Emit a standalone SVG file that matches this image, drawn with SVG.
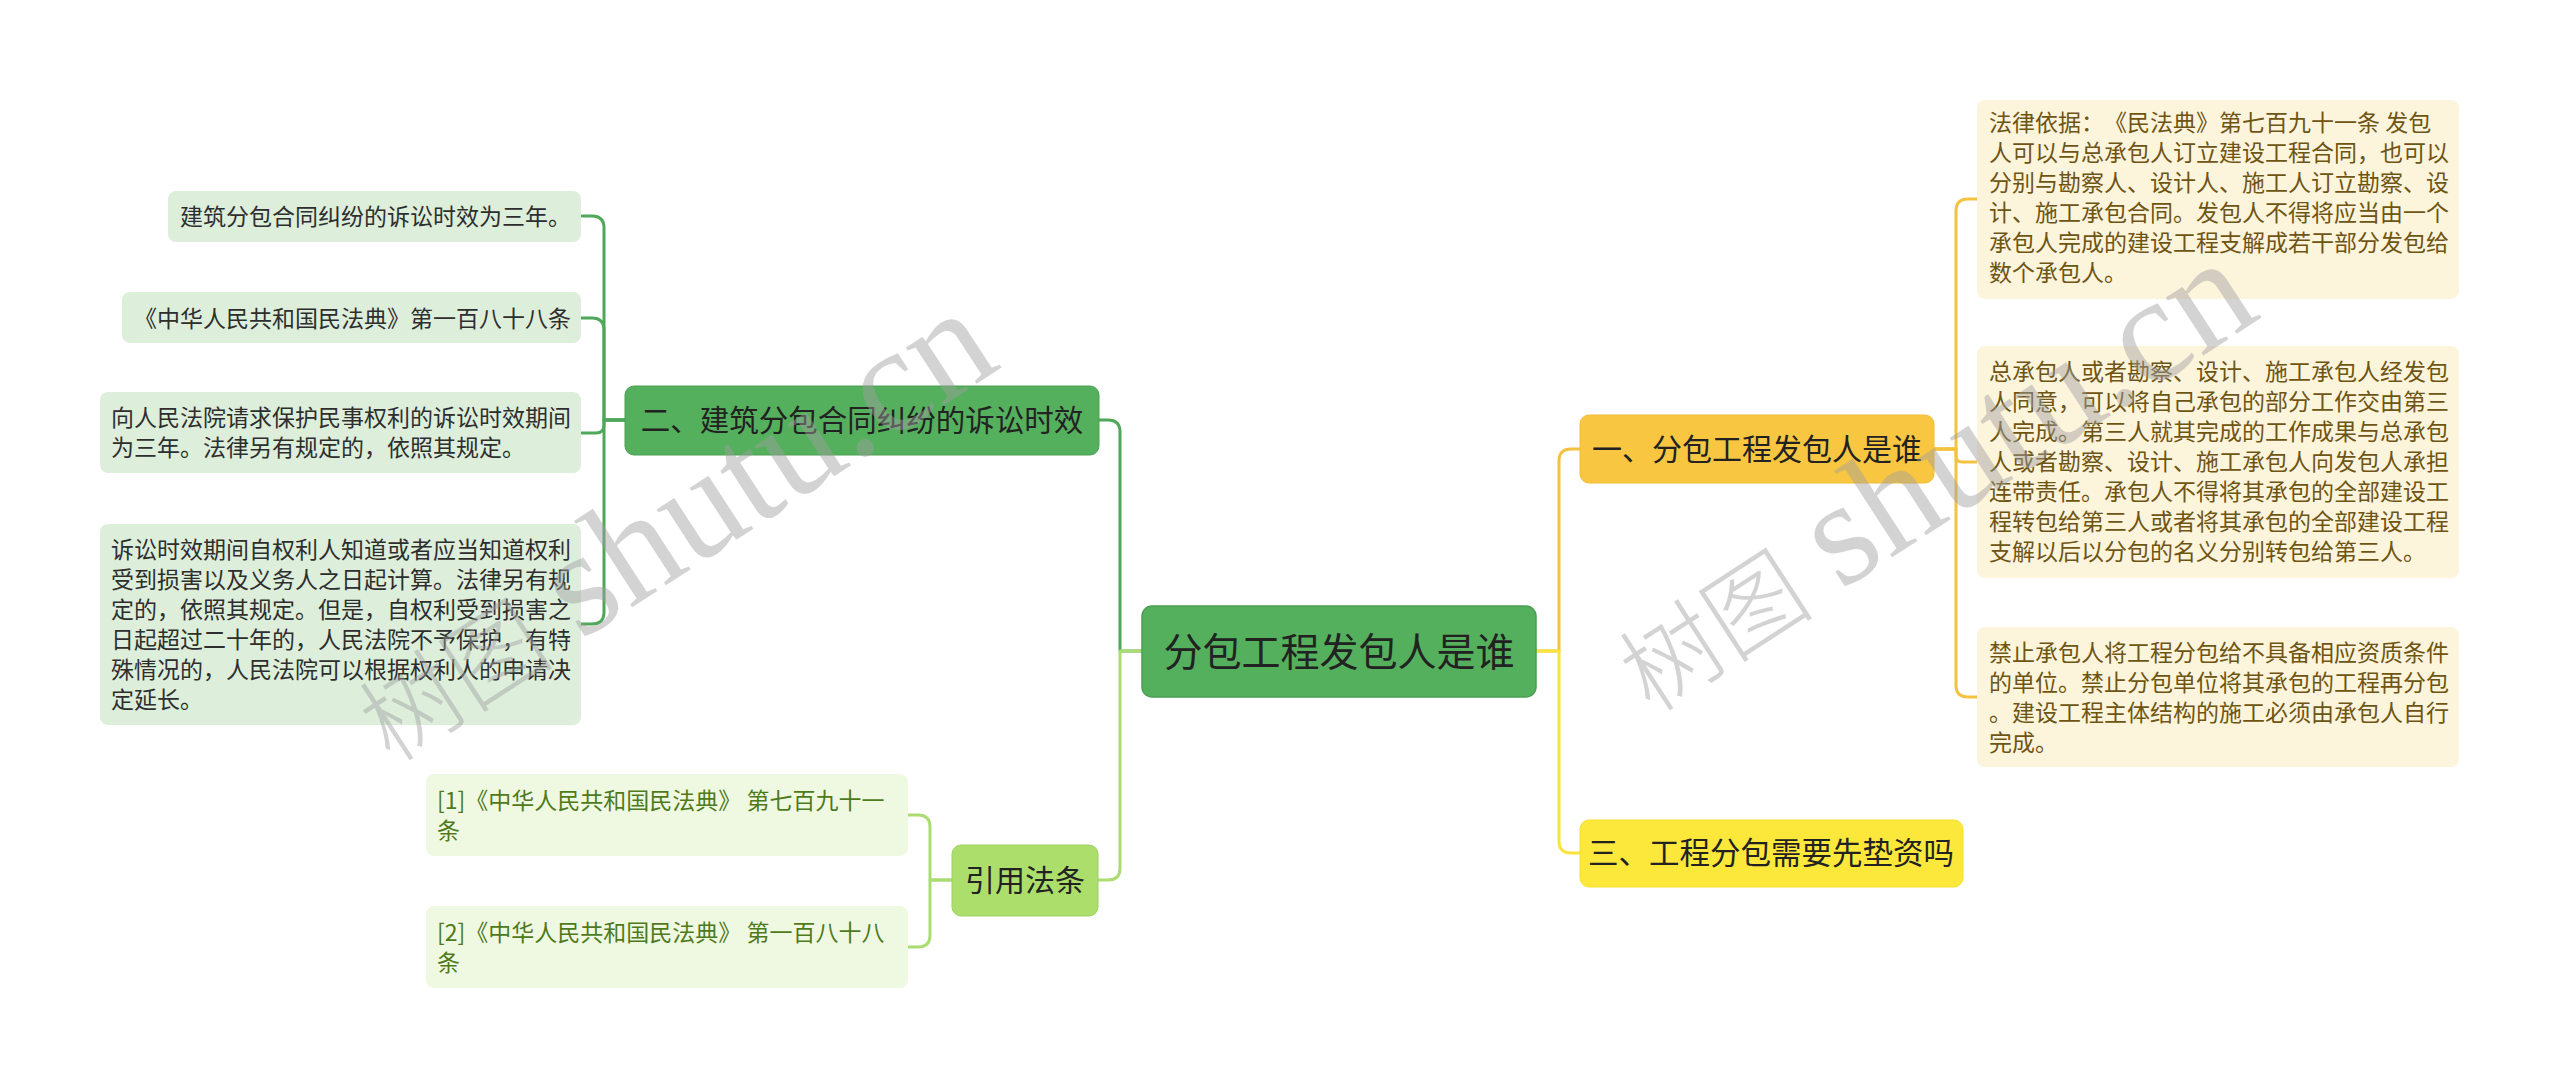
<svg xmlns="http://www.w3.org/2000/svg" width="2560" height="1088" viewBox="0 0 2560 1088">
<style>
text{font-family:"Noto Sans CJK SC","Liberation Sans",sans-serif;text-spacing-trim:space-all;}
.c{fill:none;stroke-width:3;stroke-linecap:round;stroke-linejoin:round;}
.cg{stroke:#4fa85a;}
.cl{stroke:#abdc70;}
.co{stroke:#f4c241;}
.cy{stroke:#f8e43c;}
.root rect{fill:#54b05d;stroke:#4a9f52;stroke-width:1.5;}
.b2 rect{fill:#54b05d;stroke:#4a9f52;stroke-width:1;}
.bref rect{fill:#abde6b;stroke:#9fd160;stroke-width:1;}
.b1 rect{fill:#f8c640;stroke:#f1bd35;stroke-width:1;}
.b3 rect{fill:#fbe83b;stroke:#f3df30;stroke-width:1;}
.lg rect{fill:#ddeedb;}
.lr rect{fill:#eff9e2;}
.ly rect{fill:#fdf4dc;}
.bt{fill:#222;text-anchor:middle;}
.lgt{fill:#2e2e2e;font-size:23px;}
.lrt{fill:#4f7a1c;font-size:23px;}
.lyt{fill:#6e5514;font-size:23px;}
.wm{fill:#a0a0a0;opacity:0.45;}
.wmc{font-family:"Noto Sans CJK SC",sans-serif;font-size:98px;font-weight:300;}
.wml{font-family:"Liberation Serif",serif;font-size:150px;}
</style>

<g id="connectors">
  <path class="c cg" d="M1142 651 H1120 V432 Q1120 420 1108 420 H1097"/>
  <path class="c cl" d="M1142 651 H1120 V868 Q1120 880 1108 880 H1097"/>
  <path class="c co" d="M1535 651 H1559 V461 Q1559 449 1571 449 H1580"/>
  <path class="c cy" d="M1535 651 H1559 V841 Q1559 853 1571 853 H1580"/>
  <path class="c cg" d="M625 420 H604 V228 Q604 216 592 216 H581"/>
  <path class="c cg" d="M625 420 H604 V330 Q604 318 592 318 H581"/>
  <path class="c cg" d="M625 420 H604 V425 Q604 433 596 433 H581"/>
  <path class="c cg" d="M625 420 H604 V612 Q604 624 592 624 H581"/>
  <path class="c cl" d="M952 880 H930 V827 Q930 815 918 815 H908"/>
  <path class="c cl" d="M952 880 H930 V935 Q930 947 918 947 H908"/>
  <path class="c co" d="M1933 449 H1956 V211 Q1956 199 1968 199 H1977"/>
  <path class="c co" d="M1933 449 H1956 V456 Q1956 462 1962 462 H1977"/>
  <path class="c co" d="M1933 449 H1956 V685 Q1956 697 1968 697 H1977"/>
</g>

<g id="root" class="root">
  <rect x="1142" y="606" width="394" height="91" rx="10"/>
  <text class="bt" x="1339" y="666" font-size="39">分包工程发包人是谁</text>
</g>

<g id="branch-2" class="b2">
  <rect x="625" y="386" width="474" height="69" rx="9"/>
  <text class="bt" x="862" y="431" font-size="29.5">二、建筑分包合同纠纷的诉讼时效</text>
</g>

<g id="branch-ref" class="bref">
  <rect x="952" y="845" width="146" height="71" rx="9"/>
  <text class="bt" x="1025" y="891" font-size="30">引用法条</text>
</g>

<g id="branch-1" class="b1">
  <rect x="1580" y="415" width="354" height="68" rx="9"/>
  <text class="bt" x="1757" y="460" font-size="30">一、分包工程发包人是谁</text>
</g>

<g id="branch-3" class="b3">
  <rect x="1580" y="820" width="383" height="67" rx="9"/>
  <text class="bt" x="1771" y="864" font-size="30.5">三、工程分包需要先垫资吗</text>
</g>

<g id="leaf-a" class="lg">
  <rect x="168" y="191" width="413" height="51" rx="8"/>
  <text class="lgt" x="180" y="225">建筑分包合同纠纷的诉讼时效为三年。</text>
</g>
<g id="leaf-b" class="lg">
  <rect x="122" y="292" width="459" height="51" rx="8"/>
  <text class="lgt" x="134" y="327">《中华人民共和国民法典》第一百八十八条</text>
</g>
<g id="leaf-c" class="lg">
  <rect x="100" y="392" width="481" height="81" rx="8"/>
  <text class="lgt" x="111" y="426">向人民法院请求保护民事权利的诉讼时效期间</text>
  <text class="lgt" x="111" y="456">为三年。法律另有规定的，依照其规定。</text>
</g>
<g id="leaf-d" class="lg">
  <rect x="100" y="524" width="481" height="201" rx="8"/>
  <text class="lgt" x="111" y="558">诉讼时效期间自权利人知道或者应当知道权利</text>
  <text class="lgt" x="111" y="588">受到损害以及义务人之日起计算。法律另有规</text>
  <text class="lgt" x="111" y="618">定的，依照其规定。但是，自权利受到损害之</text>
  <text class="lgt" x="111" y="648">日起超过二十年的，人民法院不予保护，有特</text>
  <text class="lgt" x="111" y="678">殊情况的，人民法院可以根据权利人的申请决</text>
  <text class="lgt" x="111" y="708">定延长。</text>
</g>

<g id="ref-1" class="lr">
  <rect x="426" y="774" width="482" height="82" rx="8"/>
  <text class="lrt" x="437" y="809">[1]《中华人民共和国民法典》 第七百九十一</text>
  <text class="lrt" x="437" y="839">条</text>
</g>
<g id="ref-2" class="lr">
  <rect x="426" y="906" width="482" height="82" rx="8"/>
  <text class="lrt" x="437" y="941">[2]《中华人民共和国民法典》 第一百八十八</text>
  <text class="lrt" x="437" y="971">条</text>
</g>

<g id="leaf-r1" class="ly">
  <rect x="1977" y="100" width="482" height="199" rx="8"/>
  <text class="lyt" x="1989" y="131">法律依据：《民法典》第七百九十一条 发包</text>
  <text class="lyt" x="1989" y="161">人可以与总承包人订立建设工程合同，也可以</text>
  <text class="lyt" x="1989" y="191">分别与勘察人、设计人、施工人订立勘察、设</text>
  <text class="lyt" x="1989" y="221">计、施工承包合同。发包人不得将应当由一个</text>
  <text class="lyt" x="1989" y="251">承包人完成的建设工程支解成若干部分发包给</text>
  <text class="lyt" x="1989" y="281">数个承包人。</text>
</g>
<g id="leaf-r2" class="ly">
  <rect x="1977" y="346" width="482" height="232" rx="8"/>
  <text class="lyt" x="1989" y="380">总承包人或者勘察、设计、施工承包人经发包</text>
  <text class="lyt" x="1989" y="410">人同意，可以将自己承包的部分工作交由第三</text>
  <text class="lyt" x="1989" y="440">人完成。第三人就其完成的工作成果与总承包</text>
  <text class="lyt" x="1989" y="470">人或者勘察、设计、施工承包人向发包人承担</text>
  <text class="lyt" x="1989" y="500">连带责任。承包人不得将其承包的全部建设工</text>
  <text class="lyt" x="1989" y="530">程转包给第三人或者将其承包的全部建设工程</text>
  <text class="lyt" x="1989" y="560">支解以后以分包的名义分别转包给第三人。</text>
</g>
<g id="leaf-r3" class="ly">
  <rect x="1977" y="627" width="482" height="140" rx="8"/>
  <text class="lyt" x="1989" y="661">禁止承包人将工程分包给不具备相应资质条件</text>
  <text class="lyt" x="1989" y="691">的单位。禁止分包单位将其承包的工程再分包</text>
  <text class="lyt" x="1989" y="721">。建设工程主体结构的施工必须由承包人自行</text>
  <text class="lyt" x="1989" y="751">完成。</text>
</g>

<g id="watermarks">
  <text class="wm" transform="translate(1651 714) rotate(-33)"><tspan class="wmc">树图</tspan><tspan class="wml" dx="30">shutu.cn</tspan></text>
  <text class="wm" transform="translate(391 764) rotate(-33)"><tspan class="wmc">树图</tspan><tspan class="wml" dx="30">shutu.cn</tspan></text>
</g>
</svg>
